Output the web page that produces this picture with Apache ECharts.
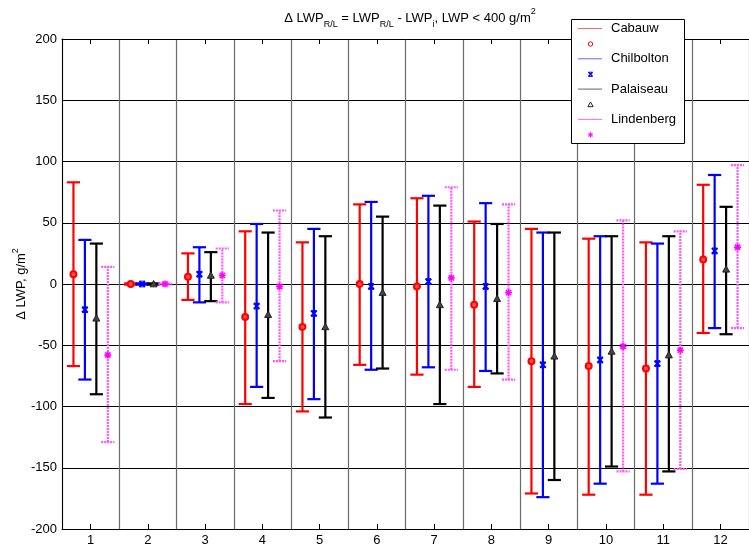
<!DOCTYPE html>
<html>
<head>
<meta charset="utf-8">
<script src="https://cdn.jsdelivr.net/npm/echarts@6/dist/echarts.min.js"></script>
<style>
html,body{margin:0;padding:0;background:#fff;}
#chart{width:749px;height:547px;}
</style>
</head>
<body>
<div id="chart"></div>
<script>
const categories = ['1','2','3','4','5','6','7','8','9','10','11','12'];
const yTicks = [-200,-150,-100,-50,0,50,100,150,200];

const cabauwMean = [8, 0, 6, -27, -35, 0, -2, -17, -63, -67, -69, 20];
const cabauwLow  = [-67, -0.5, -13, -98, -104, -66, -74, -84, -171, -172, -172, -40];
const cabauwHigh = [83, 0.5, 25, 43, 34, 65, 70, 51, 45, 37, 34, 81];

const chilboltonMean = [-21, 0, 8, -18, -24, -2, 2, -2, -66, -62, -65, 27];
const chilboltonLow  = [-78, -0.5, -15, -84, -94, -70, -68, -71, -174, -163, -163, -36];
const chilboltonHigh = [36, 0.5, 30, 49, 45, 67, 72, 66, 42, 39, 33, 89];

const palaiseauMean = [-28, 0, 7, -25, -35, -7, -17, -12, -59, -55, -58, 12];
const palaiseauLow  = [-90, -0.5, -14, -93, -109, -69, -98, -73, -160, -149, -153, -41];
const palaiseauHigh = [33, 0.5, 26, 42, 39, 55, 64, 49, 42, 39, 39, 63];

const lindenbergMean = [-58, 0, 7, -2, null, null, 5, -7, null, -51, -54, 30];
const lindenbergLow  = [-129, -0.5, -15, -63, null, null, -70, -78, null, -153, -151, -36];
const lindenbergHigh = [14, 0.5, 29, 60, null, null, 79, 65, null, 52, 43, 97];

function buildData(mean, low, high) {
  const out = [];
  for (let i = 0; i < mean.length; i++) {
    if (mean[i] === null) continue;
    out.push([i, mean[i], low[i], high[i]]);
  }
  return out;
}

function markerShape(kind, x, y, s, color, thin) {
  const lw = thin ? 1 : 1.6;
  if (kind === 'circle') {
    return {type:'circle', shape:{cx:x, cy:y, r:s*0.85}, style:{fill: thin ? 'none' : '#ff5050', stroke:color, lineWidth: thin ? 1 : 2}};
  }
  if (kind === 'x') {
    return {type:'group', children:[
      {type:'line', shape:{x1:x-s*0.8,y1:y-s*0.8,x2:x+s*0.8,y2:y+s*0.8}, style:{stroke:color, lineWidth:lw+0.4}},
      {type:'line', shape:{x1:x-s*0.8,y1:y+s*0.8,x2:x+s*0.8,y2:y-s*0.8}, style:{stroke:color, lineWidth:lw+0.4}},
      {type:'line', shape:{x1:x-s*0.8,y1:y-s*0.8,x2:x+s*0.8,y2:y-s*0.8}, style:{stroke:color, lineWidth:1}},
      {type:'line', shape:{x1:x-s*0.8,y1:y+s*0.8,x2:x+s*0.8,y2:y+s*0.8}, style:{stroke:color, lineWidth:1}}
    ]};
  }
  if (kind === 'triangle') {
    return {type:'polygon', shape:{points:[[x,y-s],[x+s,y+s*0.8],[x-s,y+s*0.8]]},
      style:{fill: thin ? 'none' : '#444', stroke:color, lineWidth:1}};
  }
  const d = s*0.75;
  return {type:'group', children:[
    {type:'line', shape:{x1:x-s,y1:y,x2:x+s,y2:y}, style:{stroke:color, lineWidth:lw}},
    {type:'line', shape:{x1:x,y1:y-s,x2:x,y2:y+s}, style:{stroke:color, lineWidth:lw}},
    {type:'line', shape:{x1:x-d,y1:y-d,x2:x+d,y2:y+d}, style:{stroke:color, lineWidth:lw}},
    {type:'line', shape:{x1:x-d,y1:y+d,x2:x+d,y2:y-d}, style:{stroke:color, lineWidth:lw}}
  ]};
}

function setZ(el, z) {
  el.z = z;
  if (el.children) el.children.forEach(function (c) { setZ(c, z); });
  return el;
}

function makeRender(offset, color, dash, marker, markerColor) {
  return function (params, api) {
    const idx = api.value(0);
    const mean = api.value(1), lo = api.value(2), hi = api.value(3);
    const band = api.size([1, 0])[0];
    const cx = api.coord([idx, 0])[0] + offset * band;
    const yl = api.coord([idx, lo])[1];
    const yh = api.coord([idx, hi])[1];
    const ym = api.coord([idx, mean])[1];
    const hw = band * 0.115;
    const st = {stroke: color, lineWidth: 2.2, lineDash: dash};
    return {type:'group', children:[
      {type:'line', shape:{x1:cx, y1:yl, x2:cx, y2:yh}, style:st},
      {type:'line', shape:{x1:cx-hw, y1:yl, x2:cx+hw, y2:yl}, style:st},
      {type:'line', shape:{x1:cx-hw, y1:yh, x2:cx+hw, y2:yh}, style:st},
      markerShape(marker, cx, ym, 3.5, markerColor, false)
    ]};
  };
}

const seriesDefs = [
  {name:'Cabauw', offset:-0.3, color:'#ff0000', mcolor:'#ff0000', dash:null, marker:'circle', data: buildData(cabauwMean, cabauwLow, cabauwHigh)},
  {name:'Chilbolton', offset:-0.1, color:'#0000ff', mcolor:'#0000ff', dash:null, marker:'x', data: buildData(chilboltonMean, chilboltonLow, chilboltonHigh)},
  {name:'Palaiseau', offset:0.1, color:'#000000', mcolor:'#222222', dash:null, marker:'triangle', data: buildData(palaiseauMean, palaiseauLow, palaiseauHigh)},
  {name:'Lindenberg', offset:0.3, color:'#ff55ff', mcolor:'#ff00ff', dash:[2,1], marker:'asterisk', data: buildData(lindenbergMean, lindenbergLow, lindenbergHigh)}
];

const font = '"Liberation Sans", Arial, sans-serif';

const legendColors = ['#ff6666', '#6666ff', '#666666', '#ff66ff'];
const legendEls = [
  {type:'rect', shape:{x:571.5, y:19.5, width:113, height:124}, style:{fill:'#fff', stroke:'#000', lineWidth:1}, z:100}
];
seriesDefs.forEach(function (s, i) {
  const yLine = 28.5 + i * 30.3;
  const yMark = 44 + i * 30.3;
  legendEls.push({type:'line', shape:{x1:578, y1:yLine, x2:602, y2:yLine}, style:{stroke:legendColors[i], lineWidth:1}, z:101});
  legendEls.push({type:'text', x:611, y:yLine, style:{text:s.name, font:'13px ' + font, fill:'#000', verticalAlign:'middle', align:'left'}, z:101});
  legendEls.push(setZ(markerShape(s.marker, 590.5, yMark, 2.6, s.mcolor, true), 101));
});

const chart = echarts.init(document.getElementById('chart'), null, {renderer:'canvas'});
chart.setOption({
  animation: false,
  backgroundColor: '#fff',
  grid: {left: 62, right: -8, top: 39, bottom: 17, containLabel: false},
  xAxis: [
    {
      type: 'category', data: categories, position: 'bottom', boundaryGap: true,
      axisLine: {show: true, onZero: false, lineStyle: {color: '#000', width: 1}},
      axisTick: {show: true, inside: true, alignWithLabel: true, length: 5, lineStyle: {color: '#000'}},
      axisLabel: {color: '#000', fontSize: 13, fontFamily: font, margin: 5},
      splitLine: {show: true, lineStyle: {color: '#6a6a6a', width: 1.2}}
    },
    {
      type: 'category', data: categories, position: 'top', boundaryGap: true,
      axisLine: {show: true, onZero: false, lineStyle: {color: '#000', width: 1}},
      axisTick: {show: true, inside: true, alignWithLabel: true, length: 5, lineStyle: {color: '#000'}},
      axisLabel: {show: false},
      splitLine: {show: false}
    }
  ],
  yAxis: {
    type: 'value', min: -200, max: 200, interval: 50,
    axisLine: {show: true, onZero: false, lineStyle: {color: '#000', width: 1}},
    axisTick: {show: true, inside: true, length: 5, lineStyle: {color: '#000'}},
    axisLabel: {color: '#000', fontSize: 13, fontFamily: font, margin: 5,
      formatter: function (v) { return yTicks.indexOf(v) >= 0 ? String(v) : ''; }},
    splitLine: {show: true, lineStyle: {color: '#000', width: 1}}
  },
  series: seriesDefs.map(function (s) {
    return {
      type: 'custom', name: s.name, xAxisIndex: 0, yAxisIndex: 0,
      renderItem: makeRender(s.offset, s.color, s.dash, s.marker, s.mcolor),
      encode: {x: 0, y: [1, 2, 3]},
      data: s.data, z: 10, clip: false
    };
  }),
  graphic: [
    {
      type: 'text', x: 410, y: 18,
      style: {
        text: '{n|Δ LWP}{s|R/L}{n| = LWP}{s|R/L}{n| - LWP}{s|i}{n|, LWP < 400 g/m}{p|2}',
        align: 'center', verticalAlign: 'middle', fill: '#000',
        rich: {
          n: {fontSize: 13, fontFamily: font, lineHeight: 22, verticalAlign: 'middle', fill:'#000'},
          s: {fontSize: 9, fontFamily: font, lineHeight: 9, verticalAlign: 'bottom', fill:'#000'},
          p: {fontSize: 9, fontFamily: font, lineHeight: 9, verticalAlign: 'top', fill:'#000'}
        }
      }
    },
    {
      type: 'text', x: 21, y: 284, rotation: Math.PI / 2,
      style: {
        text: '{n|Δ LWP, g/m}{p|2}',
        align: 'center', verticalAlign: 'middle', fill: '#000',
        rich: {
          n: {fontSize: 13, fontFamily: font, lineHeight: 20, verticalAlign: 'middle', fill:'#000'},
          p: {fontSize: 9, fontFamily: font, lineHeight: 9, verticalAlign: 'top', fill:'#000'}
        }
      }
    }
  ].concat(legendEls)
});
</script>
</body>
</html>
